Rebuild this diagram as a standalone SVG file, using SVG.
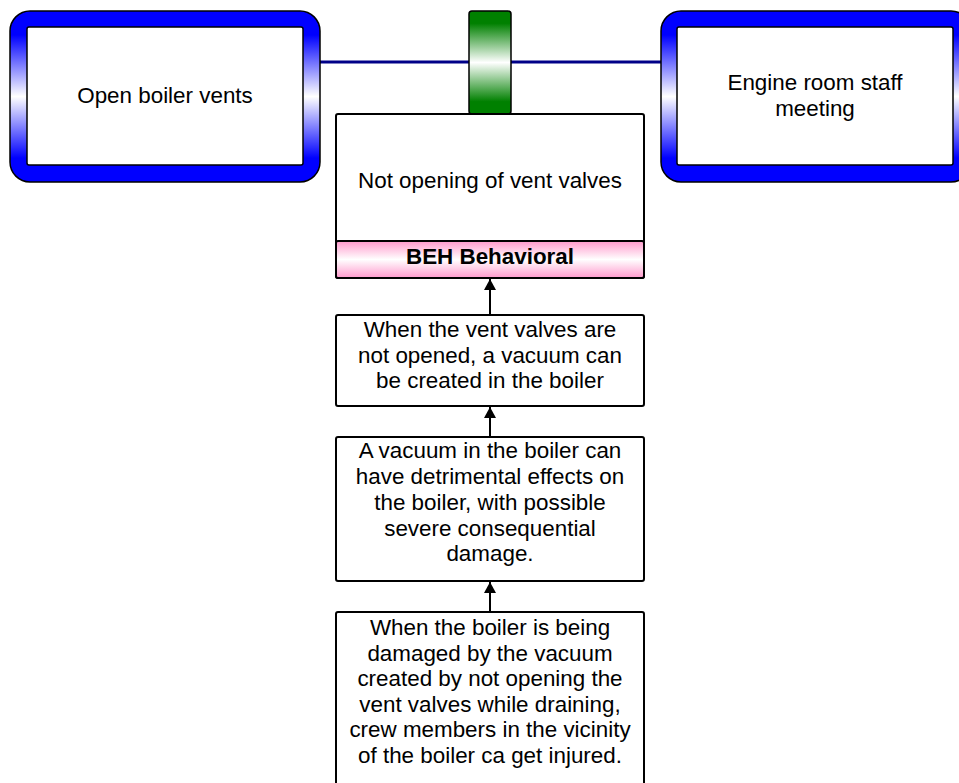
<svg xmlns="http://www.w3.org/2000/svg" width="959" height="783" viewBox="0 0 959 783">
<defs>
<linearGradient id="gBlue" x1="0" y1="0" x2="0" y2="1">
<stop offset="0" stop-color="#0000ff"/>
<stop offset="0.14" stop-color="#0000ff"/>
<stop offset="0.5" stop-color="#ffffff"/>
<stop offset="0.86" stop-color="#0000ff"/>
<stop offset="1" stop-color="#0000ff"/>
</linearGradient>
<linearGradient id="gGreen" x1="0" y1="0" x2="0" y2="1">
<stop offset="0" stop-color="#008000"/>
<stop offset="0.12" stop-color="#008000"/>
<stop offset="0.5" stop-color="#ffffff"/>
<stop offset="0.88" stop-color="#008000"/>
<stop offset="1" stop-color="#008000"/>
</linearGradient>
<linearGradient id="gPink" x1="0" y1="0" x2="0" y2="1">
<stop offset="0" stop-color="#ff99cc"/>
<stop offset="0.5" stop-color="#ffffff"/>
<stop offset="1" stop-color="#ff99cc"/>
</linearGradient>
<marker id="arr" viewBox="0 0 12 13" refX="12" refY="6.5" markerWidth="13" markerHeight="12" markerUnits="userSpaceOnUse" orient="auto">
<path d="M0,0 L12,6.5 L0,13 Z" fill="#000"/>
</marker>
<style>
.t{font-family:"Liberation Sans",Arial,sans-serif;font-size:22.4px;fill:#000;text-anchor:middle}
.b{font-weight:bold}
.outer{fill:url(#gBlue);stroke:#000;stroke-width:1.5}
.inner{fill:#fff;stroke:#000;stroke-width:1.5}
.box{fill:#fff;stroke:#000;stroke-width:2}
.con{stroke:#000;stroke-width:2;fill:none;marker-end:url(#arr)}
</style>
</defs>
<rect width="959" height="783" fill="#fff"/>
<g id="connectors">
<line x1="320" y1="62" x2="662" y2="62" stroke="#000088" stroke-width="3"/>
<line class="con" x1="490" y1="315" x2="490" y2="279"/>
<line class="con" x1="490" y1="437" x2="490" y2="407"/>
<line class="con" x1="490" y1="612" x2="490" y2="582"/>
</g>
<g id="open-boiler-vents">
<rect class="outer" x="10" y="11" width="310" height="171" rx="20"/>
<rect class="inner" x="27" y="27" width="276" height="138" rx="2"/>
<text class="t" x="165" y="103">Open boiler vents</text>
</g>
<g id="engine-room-staff-meeting">
<rect class="outer" x="661" y="11" width="310" height="171" rx="20"/>
<rect class="inner" x="677" y="27" width="276" height="138" rx="2"/>
<text class="t" x="815" y="90">Engine room staff</text>
<text class="t" x="815" y="116">meeting</text>
</g>
<g id="barrier">
<rect x="469" y="11" width="42" height="103" rx="3" fill="url(#gGreen)" stroke="#000" stroke-width="1.5"/>
</g>
<g id="not-opening-vent-valves">
<rect class="box" x="336" y="114" width="308" height="164" rx="2"/>
<text class="t" x="490" y="188">Not opening of vent valves</text>
<rect x="336" y="241" width="308" height="37" fill="url(#gPink)" stroke="#000" stroke-width="2" rx="2"/>
<text class="t b" x="490" y="264">BEH Behavioral</text>
</g>
<g id="vacuum-created">
<rect class="box" x="336" y="315" width="308" height="91" rx="2"/>
<text class="t" x="490" y="337">When the vent valves are</text>
<text class="t" x="490" y="363">not opened, a vacuum can</text>
<text class="t" x="490" y="388">be created in the boiler</text>
</g>
<g id="detrimental-effects">
<rect class="box" x="336" y="437" width="308" height="144" rx="2"/>
<text class="t" x="490" y="458">A vacuum in the boiler can</text>
<text class="t" x="490" y="484">have detrimental effects on</text>
<text class="t" x="490" y="510">the boiler, with possible</text>
<text class="t" x="490" y="536">severe consequential</text>
<text class="t" x="490" y="561">damage.</text>
</g>
<g id="crew-injured">
<rect class="box" x="336" y="612" width="308" height="190" rx="2"/>
<text class="t" x="490" y="635">When the boiler is being</text>
<text class="t" x="490" y="661">damaged by the vacuum</text>
<text class="t" x="490" y="686">created by not opening the</text>
<text class="t" x="490" y="712">vent valves while draining,</text>
<text class="t" x="490" y="737">crew members in the vicinity</text>
<text class="t" x="490" y="763">of the boiler ca get injured.</text>
</g>
</svg>
